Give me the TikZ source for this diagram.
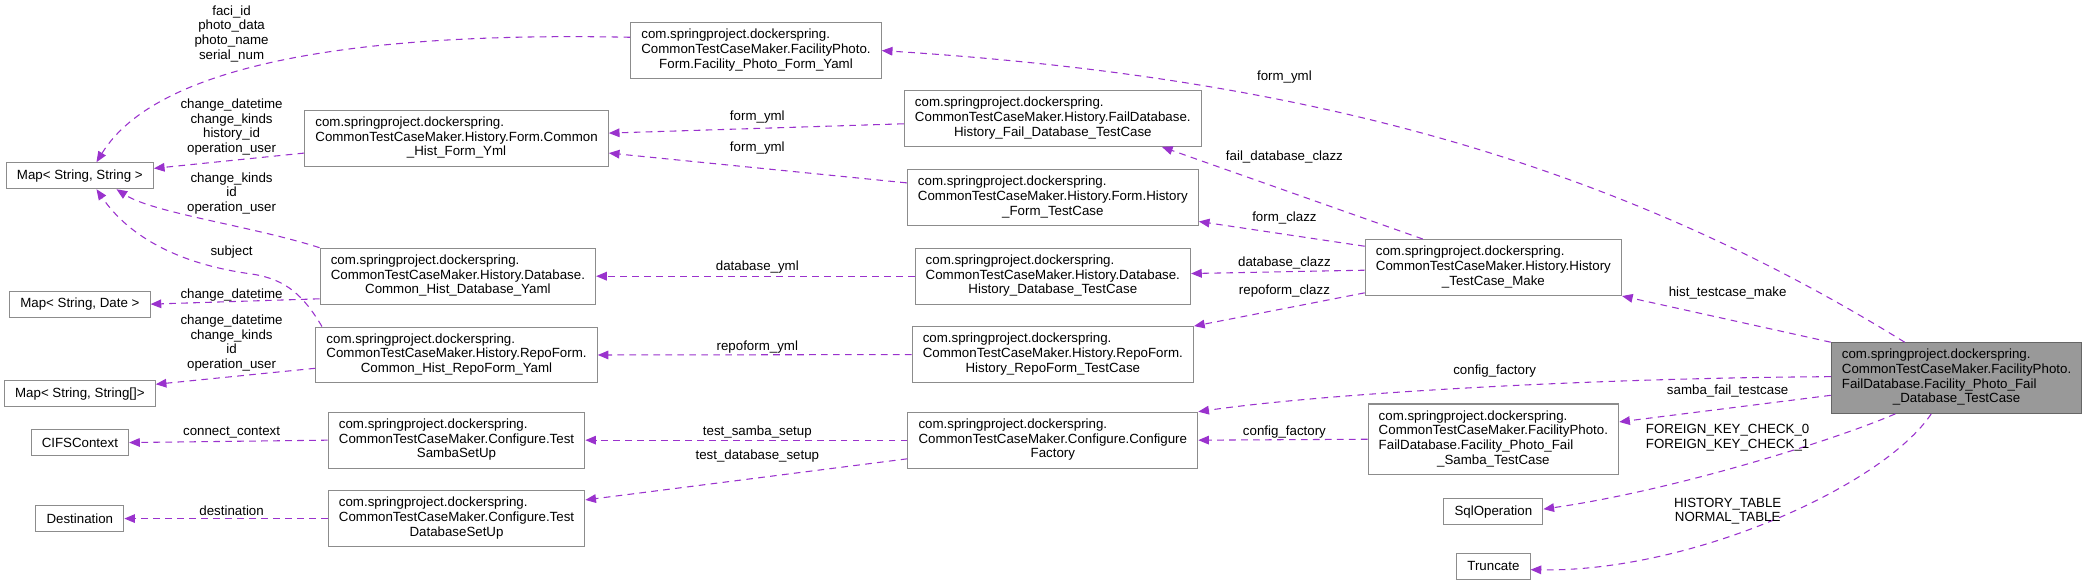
\documentclass[tikz,border=0pt]{standalone}
\usepackage{fontspec}
\setmainfont{Liberation Sans}
\usepackage{tikz}
\usetikzlibrary{arrows.meta}
\usepackage{xcolor}
\definecolor{usecol}{RGB}{154, 50, 205}
\definecolor{boxline}{RGB}{140, 140, 140}
\definecolor{mainfill}{RGB}{153, 153, 153}
\definecolor{mainline}{RGB}{102, 102, 102}

\newcommand{\clsthree}[3]{\begin{tabular}{@{}l@{}}#1\\#2\\\multicolumn{1}{@{}c@{}}{#3}\end{tabular}}
\newcommand{\clsfour}[4]{\begin{tabular}{@{}l@{}}#1\\#2\\#3\\\multicolumn{1}{@{}c@{}}{#4}\end{tabular}}
\newcommand{\pkg}{com.springproject.dockerspring.}

\begin{document}
\begin{tikzpicture}[x=1pt, y=-1pt,
  font=\fontsize{10}{11}\selectfont,
  cls/.style={draw=boxline, fill=white, line width=0.8pt, inner xsep=8pt, inner ysep=4.5pt},
  ext/.style={cls, minimum height=19.5pt, inner ysep=2pt},
  mainbox/.style={cls, draw=mainline, fill=mainfill},
  usedge/.style={draw=usecol, line width=0.8pt, dash pattern=on 5pt off 4pt,
    -{Triangle[length=8pt, width=6.5pt]}},
  lbl/.style={inner sep=0pt, align=center}]
  \useasboundingbox (0, 0) rectangle (1568, 440);

  % classes, column by column
  \node[ext] (mapss) at (60, 132) {Map< String, String >};
  \node[ext] (mapsd) at (60, 228.5) {Map< String, Date >};
  \node[ext] (mapsa) at (60, 295.7) {Map< String, String[]>};
  \node[ext] (cifs) at (60, 332.5) {CIFSContext};
  \node[ext] (dest) at (60, 389.6) {Destination};

  \node[cls] (chfy) at (343, 104) {\clsthree{\pkg}{CommonTestCaseMaker.History.Form.Common}{\_Hist\_Form\_Yml}};
  \node[cls] (chdy) at (344, 207.5) {\clsthree{\pkg}{CommonTestCaseMaker.History.Database.}{Common\_Hist\_Database\_Yaml}};
  \node[cls] (chry) at (343, 266.7) {\clsthree{\pkg}{CommonTestCaseMaker.History.RepoForm.}{Common\_Hist\_RepoForm\_Yaml}};
  \node[cls] (tss) at (343, 330.7) {\clsthree{\pkg}{CommonTestCaseMaker.Configure.Test}{SambaSetUp}};
  \node[cls] (tds) at (343, 389.6) {\clsthree{\pkg}{CommonTestCaseMaker.Configure.Test}{DatabaseSetUp}};

  \node[cls] (fpfy) at (568, 38) {\clsthree{\pkg}{CommonTestCaseMaker.FacilityPhoto.}{Form.Facility\_Photo\_Form\_Yaml}};

  \node[cls] (hfdt) at (791, 89) {\clsthree{\pkg}{CommonTestCaseMaker.History.FailDatabase.}{History\_Fail\_Database\_TestCase}};
  \node[cls] (hft) at (791, 148.4) {\clsthree{\pkg}{CommonTestCaseMaker.History.Form.History}{\_Form\_TestCase}};
  \node[cls] (hdt) at (791, 207.5) {\clsthree{\pkg}{CommonTestCaseMaker.History.Database.}{History\_Database\_TestCase}};
  \node[cls] (hrt) at (791, 266.4) {\clsthree{\pkg}{CommonTestCaseMaker.History.RepoForm.}{History\_RepoForm\_TestCase}};
  \node[cls] (cf) at (791, 330.7) {\clsthree{\pkg}{CommonTestCaseMaker.Configure.Configure}{Factory}};

  \node[cls] (make) at (1122, 201) {\clsthree{\pkg}{CommonTestCaseMaker.History.History}{\_TestCase\_Make}};
  \node[cls] (samba) at (1122, 330) {\clsfour{\pkg}{CommonTestCaseMaker.FacilityPhoto.}{FailDatabase.Facility\_Photo\_Fail}{\_Samba\_TestCase}};
  \node[ext] (sqlop) at (1122, 384.5) {SqlOperation};
  \node[ext] (trunc) at (1122, 425.5) {Truncate};

  \node[mainbox] (main) at (1470, 284) {\clsfour{\pkg}{CommonTestCaseMaker.FacilityPhoto.}{FailDatabase.Facility\_Photo\_Fail}{\_Database\_TestCase}};

  % usage edges of the main class
  \draw[usedge] ([xshift=-39pt]main.north) .. controls (1201, 115) and (962, 57) .. (fpfy.east);
  \draw[usedge] (main.north west) -- (make.south east);
  \draw[usedge] ([yshift=1pt]main.west) .. controls (1200, 284) and (1000, 295) .. (cf.north east);
  \draw[usedge] ([yshift=-13pt]main.west) -- ([yshift=13pt]samba.east);
  \draw[usedge] ([xshift=-46pt]main.south) .. controls (1380, 330) and (1260, 368) .. ([yshift=2pt]sqlop.east);
  \draw[usedge] ([xshift=-19pt]main.south) .. controls (1415, 365) and (1270, 430) .. ([yshift=-2.5pt]trunc.east);

  \node[lbl] (l-mainfp) at (965, 57.6) {form\_yml};
  \node[lbl] (l-make) at (1298, 220) {hist\_testcase\_make};
  \node[lbl] (l-maincf) at (1123, 279) {config\_factory};
  \node[lbl] (l-samba) at (1298, 293.5) {samba\_fail\_testcase};
  \node[lbl] (l-sql) at (1298, 329) {FOREIGN\_KEY\_CHECK\_0\\FOREIGN\_KEY\_CHECK\_1};
  \node[lbl] (l-trunc) at (1298, 384) {HISTORY\_TABLE\\NORMAL\_TABLE};

  % History_TestCase_Make
  \draw[usedge] ([xshift=-53pt]make.north) -- ([xshift=82pt]hfdt.south);
  \draw[usedge] ([yshift=16pt]make.west) -- ([yshift=-18pt]hft.east);
  \draw[usedge] ([yshift=-2pt]make.west) -- ([yshift=2pt]hdt.east);
  \draw[usedge] ([yshift=-19pt]make.west) -- (hrt.north east);
  \draw[usedge] (samba.west) -- (cf.east);

  \node[lbl] (l-fail) at (965, 117.7) {fail\_database\_clazz};
  \node[lbl] (l-form) at (965, 164) {form\_clazz};
  \node[lbl] (l-db) at (965, 197.8) {database\_clazz};
  \node[lbl] (l-repo) at (965, 218.4) {repoform\_clazz};
  \node[lbl] (l-sambacf) at (965, 324.3) {config\_factory};

  % test cases to yaml / setup classes
  \draw[usedge] ([yshift=-4pt]hfdt.west) -- ([yshift=4pt]chfy.east);
  \draw[usedge] ([yshift=11pt]hft.west) -- ([yshift=-11pt]chfy.east);
  \draw[usedge] (hdt.west) -- (chdy.east);
  \draw[usedge] (hrt.west) -- (chry.east);
  \draw[usedge] (cf.west) -- (tss.east);
  \draw[usedge] ([yshift=-14pt]cf.west) -- ([yshift=14pt]tds.east);

  \node[lbl] (l-fy1) at (569, 87.7) {form\_yml};
  \node[lbl] (l-fy2) at (569, 111.4) {form\_yml};
  \node[lbl] (l-dby) at (569, 201) {database\_yml};
  \node[lbl] (l-rpy) at (569, 260.5) {repoform\_yml};
  \node[lbl] (l-tss) at (569, 324.3) {test\_samba\_setup};
  \node[lbl] (l-tds) at (569, 342.4) {test\_database\_setup};

  % yaml classes to maps, setups to samba / mail types
  \draw[usedge] ([yshift=10pt]fpfy.west) .. controls (280, 24) and (120, 45) .. ([xshift=12.5pt]mapss.north);
  \draw[usedge] ([yshift=-11pt]chfy.west) -- ([yshift=5.5pt]mapss.east);
  \draw[usedge] (chdy.north west) .. controls (190, 170) and (115, 160) .. ([xshift=27.5pt]mapss.south);
  \draw[usedge] ([xshift=5pt]chry.north west) .. controls (228, 222) and (215, 210) .. (190, 206)
    .. controls (130, 198) and (95, 175) .. ([xshift=12.5pt]mapss.south);
  \draw[usedge] ([yshift=-17pt]chdy.west) -- (mapsd.east);
  \draw[usedge] ([yshift=-10pt]chry.west) -- ([yshift=7pt]mapsa.east);
  \draw[usedge] (tss.west) -- (cifs.east);
  \draw[usedge] (tds.west) -- (dest.east);

  \node[lbl] (l-photo) at (174, 25.3) {faci\_id\\photo\_data\\photo\_name\\serial\_num};
  \node[lbl] (l-hform) at (174, 95.5) {change\_datetime\\change\_kinds\\history\_id\\operation\_user};
  \node[lbl] (l-hdb) at (174, 145.3) {change\_kinds\\id\\operation\_user};
  \node[lbl] (l-subj) at (174, 189) {subject};
  \node[lbl] (l-date) at (174, 221.5) {change\_datetime};
  \node[lbl] (l-hrepo) at (174, 257.7) {change\_datetime\\change\_kinds\\id\\operation\_user};
  \node[lbl] (l-cifs) at (174, 325) {connect\_context};
  \node[lbl] (l-dest) at (174, 383.7) {destination};
\end{tikzpicture}
\end{document}
